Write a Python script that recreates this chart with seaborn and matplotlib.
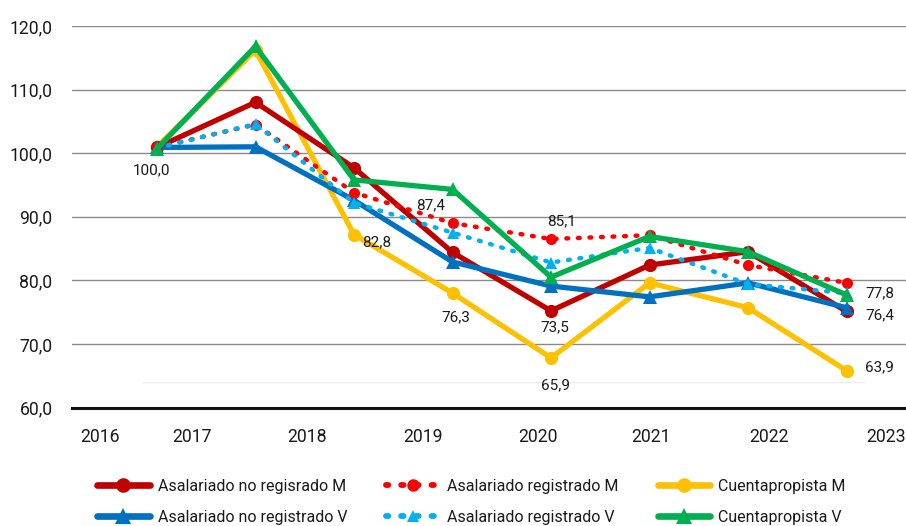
import matplotlib
matplotlib.use("Agg")
import matplotlib.pyplot as plt
import seaborn as sns
import pandas as pd
from matplotlib.lines import Line2D

sns.set_theme(style="white")
plt.rcParams['font.family'] = ['Roboto', 'DejaVu Sans']

# ---- data ----
years = ["2016", "2017", "2018", "2019", "2020", "2021", "2022", "2023"]
noreg_m = [100.9, 108.0, 97.7, 84.4, 75.2, 82.4, 84.5, 75.1]
reg_m = [100.9, 104.5, 93.8, 89.0, 86.5, 87.1, 82.4, 79.6]
cuenta_m = [101.0, 116.2, 87.2, 78.0, 67.8, 79.6, 75.7, 65.8]
noreg_v = [100.9, 101.0, 92.6, 82.9, 79.1, 77.4, 79.6, 75.7]
reg_v = [100.8, 104.6, 92.2, 87.5, 82.8, 85.1, 79.4, 78.0]
cuenta_v = [100.7, 116.8, 95.8, 94.3, 80.5, 86.9, 84.5, 77.7]

series_names = ["Asalariado no regisrado M", "Asalariado registrado M", "Cuentapropista M",
                "Asalariado no registrado V", "Asalariado registrado V", "Cuentapropista V"]
tick_labels = ["2016", "2017", "2018", "2019", "2020", "2021", "2022", "2023"]
ytick_values = [60, 70, 80, 90, 100, 110, 120]

# data labels: (text, series, index)
label_texts = ["100,0", "87,4", "85,1", "82,8", "76,3", "73,5", "65,9", "77,8", "76,4", "63,9"]
label_series = ["Cuentapropista M", "Asalariado registrado M", "Asalariado registrado M",
                "Cuentapropista M", "Cuentapropista M", "Asalariado no regisrado M",
                "Cuentapropista M", "Cuentapropista V", "Asalariado no registrado V",
                "Cuentapropista M"]
label_index = [0, 3, 4, 2, 3, 4, 4, 7, 7, 7]

values = {
    "Asalariado no regisrado M": noreg_m,
    "Asalariado registrado M": reg_m,
    "Cuentapropista M": cuenta_m,
    "Asalariado no registrado V": noreg_v,
    "Asalariado registrado V": reg_v,
    "Cuentapropista V": cuenta_v,
}

# ---- styles ----
styles = {
    "Asalariado no regisrado M": dict(color="#C00000", marker="o", ls="-", lw=3.8, ms=9.5),
    "Asalariado registrado M": dict(color="#FF0000", marker="o", ls=(0, (0.4, 2.2)), lw=3.2, ms=8),
    "Cuentapropista M": dict(color="#FFC000", marker="o", ls="-", lw=3.8, ms=9.5),
    "Asalariado no registrado V": dict(color="#0070C0", marker="^", ls="-", lw=3.8, ms=10),
    "Asalariado registrado V": dict(color="#00B0F0", marker="^", ls=(0, (0.4, 2.2)), lw=3.2, ms=8),
    "Cuentapropista V": dict(color="#00B050", marker="^", ls="-", lw=3.8, ms=10.5),
}
draw_order = ["Cuentapropista M", "Asalariado no regisrado M", "Asalariado no registrado V",
              "Asalariado registrado M", "Asalariado registrado V", "Cuentapropista V"]

W, H = 906, 526
fig = plt.figure(figsize=(W / 100, H / 100), dpi=100)
ax = fig.add_axes([72 / W, (H - 407.5) / H, (W - 72) / W, (407.5 - 26) / H])

xpos = list(range(len(years)))
for name in draw_order:
    st = styles[name]
    df = pd.DataFrame({"x": xpos, "y": values[name]})
    sns.lineplot(data=df, x="x", y="y", ax=ax, color=st["color"], linewidth=st["lw"],
                 linestyle=st["ls"], marker=st["marker"], markersize=st["ms"],
                 markeredgewidth=0, dash_capstyle="round", solid_joinstyle="miter",
                 legend=False, zorder=3)

# axes scale: points at px 157 + 98.5*i ; axis spans px 72..906
step = 98.5
ax.set_xlim((72 - 157) / step, (906 - 157) / step)
ax.set_ylim(60, 120)

# odd category tick placement of the original chart
tick_px = [100, 192, 307, 423, 538, 651, 769, 886]
ax.set_xticks([(p - 157) / step for p in tick_px])
ax.set_xticklabels(tick_labels)
ax.set_yticks(ytick_values)
ax.set_yticklabels([f"{v:.1f}".replace(".", ",") for v in ytick_values])
ax.tick_params(axis="both", length=0, labelsize=12.7, colors="#1a1a1a")
ax.tick_params(axis="y", pad=14)
ax.tick_params(axis="x", pad=15)
ax.set_xlabel("")
ax.set_ylabel("")

for s in ["top", "right", "left"]:
    ax.spines[s].set_visible(False)
ax.spines["bottom"].set_color("#111111")
ax.spines["bottom"].set_linewidth(2.2)
ax.spines["bottom"].set_zorder(5)

for v in ytick_values[1:]:
    ax.axhline(v, color="#8a8a8a", lw=1.0, zorder=1)
ax.axhline(60 + (407.5 - 382) / 6.35, xmin=(143 - 72) / (W - 72), xmax=(865 - 72) / (W - 72),
           color="#eeeeee", lw=1.0, zorder=1)

# data labels
offsets = [(-6, -23), (-22, 18), (11, 18), (23, -8), (3, -24), (4, -16), (4, -27),
           (33, 2), (33, -8), (33, 3)]
for txt, ser, idx, off in zip(label_texts, label_series, label_index, offsets):
    ax.annotate(txt, (idx, values[ser][idx]), xytext=off, textcoords="offset pixels",
                ha="center", va="center", fontsize=11, color="#1a1a1a", zorder=6,
                annotation_clip=False)

# legend
handles = []
for name in series_names:
    st = styles[name]
    handles.append(Line2D([0], [0], color=st["color"], lw=st["lw"] + 1, ls=st["ls"],
                          marker=st["marker"], markersize=st["ms"] + 1, markeredgewidth=0,
                          dash_capstyle="round"))
order = [0, 3, 1, 4, 2, 5]
leg = fig.legend([handles[i] for i in order], [series_names[i] for i in order],
                 loc="center left", bbox_to_anchor=(97 / W, 1 - 502 / H), ncol=3,
                 frameon=False, fontsize=11.5, handlelength=3.3, handletextpad=0.5,
                 columnspacing=2.45, labelspacing=1.0, borderaxespad=0, borderpad=0)
for t in leg.get_texts():
    t.set_color("#1a1a1a")

fig.savefig("out.png", dpi=100)
